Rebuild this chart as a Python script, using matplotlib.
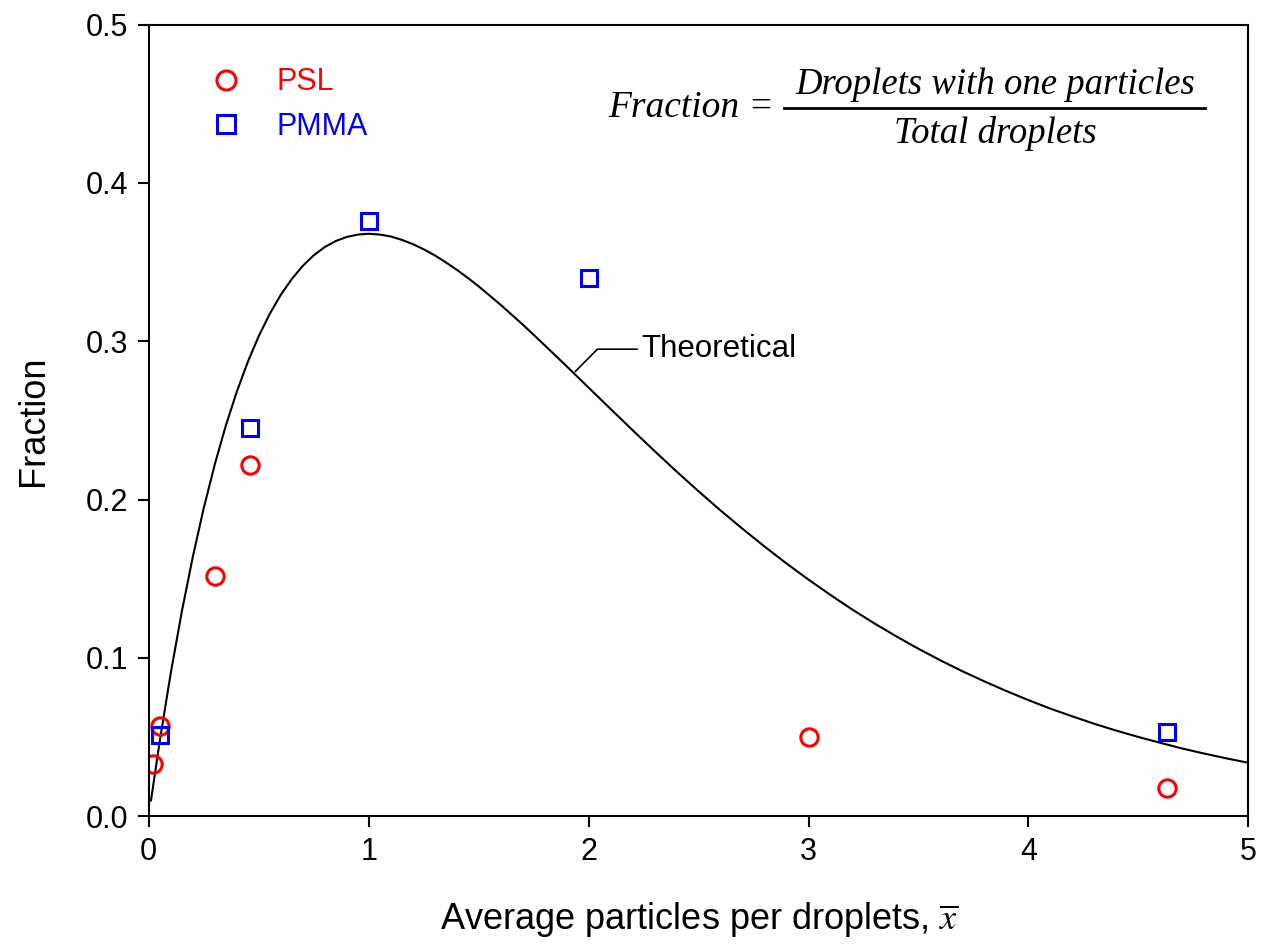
import matplotlib
matplotlib.use('Agg')
import matplotlib.pyplot as plt
from matplotlib.lines import Line2D

plt.rcParams['font.family'] = ['Liberation Sans', 'DejaVu Sans']
plt.rcParams['mathtext.fontset'] = 'stix'

# measured points
psl_x = [0.02, 0.05, 0.30, 0.46, 3.00, 4.63]
psl_y = [0.033, 0.057, 0.152, 0.222, 0.050, 0.018]
pmma_x = [0.05, 0.46, 1.00, 2.00, 4.63]
pmma_y = [0.051, 0.245, 0.376, 0.340, 0.053]

# theoretical curve
theo_x = [0.01, 0.05, 0.1, 0.15, 0.2, 0.25, 0.3, 0.35, 0.4, 0.45, 0.5, 0.55, 0.6, 0.65,
          0.7, 0.75, 0.8, 0.85, 0.9, 0.95, 1.0, 1.05, 1.1, 1.15, 1.2, 1.25, 1.3, 1.35,
          1.4, 1.45, 1.5, 1.6, 1.7, 1.8, 1.9, 2.0,
          2.1, 2.2, 2.3, 2.4, 2.5, 2.6, 2.7, 2.8, 2.9, 3.0,
          3.1, 3.2, 3.3, 3.4, 3.5, 3.6, 3.7, 3.8, 3.9, 4.0,
          4.1, 4.2, 4.3, 4.4, 4.5, 4.6, 4.7, 4.8, 4.9, 5.0]
theo_y = [0.0099, 0.0476, 0.0905, 0.1291, 0.1637, 0.1947, 0.2222, 0.2466, 0.2681, 0.2869,
          0.3033, 0.3173, 0.3293, 0.3393, 0.3476, 0.3543, 0.3595, 0.3633, 0.3659, 0.3674,
          0.3679, 0.3674, 0.3662, 0.3641, 0.3614, 0.3581, 0.3543, 0.3499, 0.3452, 0.3401,
          0.3347, 0.3230, 0.3106, 0.2975, 0.2842, 0.2707,
          0.2572, 0.2438, 0.2306, 0.2177, 0.2052, 0.1931, 0.1815, 0.1703, 0.1596, 0.1494,
          0.1397, 0.1304, 0.1217, 0.1135, 0.1057, 0.0984, 0.0915, 0.0851, 0.0790, 0.0733,
          0.0679, 0.0630, 0.0583, 0.0540, 0.0500, 0.0463, 0.0427, 0.0395, 0.0365, 0.0337]

W, H = 1261, 949
fig = plt.figure(figsize=(W / 100, H / 100), dpi=100)
ax = fig.add_axes([0.118, 0.140, 0.872, 0.834])

ax.plot(theo_x, theo_y, color='black', lw=1.5, solid_joinstyle='round')
ax.plot(psl_x, psl_y, 'o', ls='none', ms=12.5, mfc='none', mec='red', mew=2.2, label='PSL')
ax.plot(pmma_x, pmma_y, 's', ls='none', ms=11.5, mfc='none', mec='blue', mew=2.2, label='PMMA')

ax.set_xlim(0, 5)
ax.set_ylim(0, 0.5)
ax.set_xticks([0, 1, 2, 3, 4, 5])
ax.set_yticks([0.0, 0.1, 0.2, 0.3, 0.4, 0.5])
ax.set_yticklabels(['0.0', '0.1', '0.2', '0.3', '0.4', '0.5'])
ax.tick_params(direction='out', length=8, width=1.5, labelsize=22, pad=7)
for s in ax.spines.values():
    s.set_linewidth(1.5)

ax.set_xlabel(r'Average particles per droplets, $\overline{x}$', fontsize=26, labelpad=24)
ax.set_ylabel('Fraction', fontsize=26, labelpad=25)

leg = ax.legend(loc='upper left', bbox_to_anchor=(0.0245, 0.981), frameon=False,
                fontsize=22, handletextpad=0.9, labelspacing=0.48, handlelength=1.5,
                markerscale=1.1)
for t, c in zip(leg.get_texts(), ['red', 'blue']):
    t.set_color(c)

# label for the curve
ax.plot([1.94, 2.04, 2.22], [0.281, 0.295, 0.295], color='black', lw=1.2)
ax.text(2.24, 0.295, 'Theoretical', fontsize=22.5, va='center', ha='left')

# formula box, placed in figure pixels
serif = dict(family='Liberation Serif', style='italic')
fig.text(774 / W, 1 - 117 / H, 'Fraction =', ha='right', va='baseline', fontsize=27, **serif)
fig.add_artist(Line2D([784 / W, 1205 / W], [1 - 108 / H, 1 - 108 / H], color='black', lw=2))
fig.text(995 / W, 1 - 94 / H, 'Droplets with one particles', ha='center', va='baseline',
         fontsize=26.5, **serif)
fig.text(995 / W, 1 - 143 / H, 'Total droplets', ha='center', va='baseline', fontsize=26.5, **serif)

fig.savefig('out.png', dpi=100)
